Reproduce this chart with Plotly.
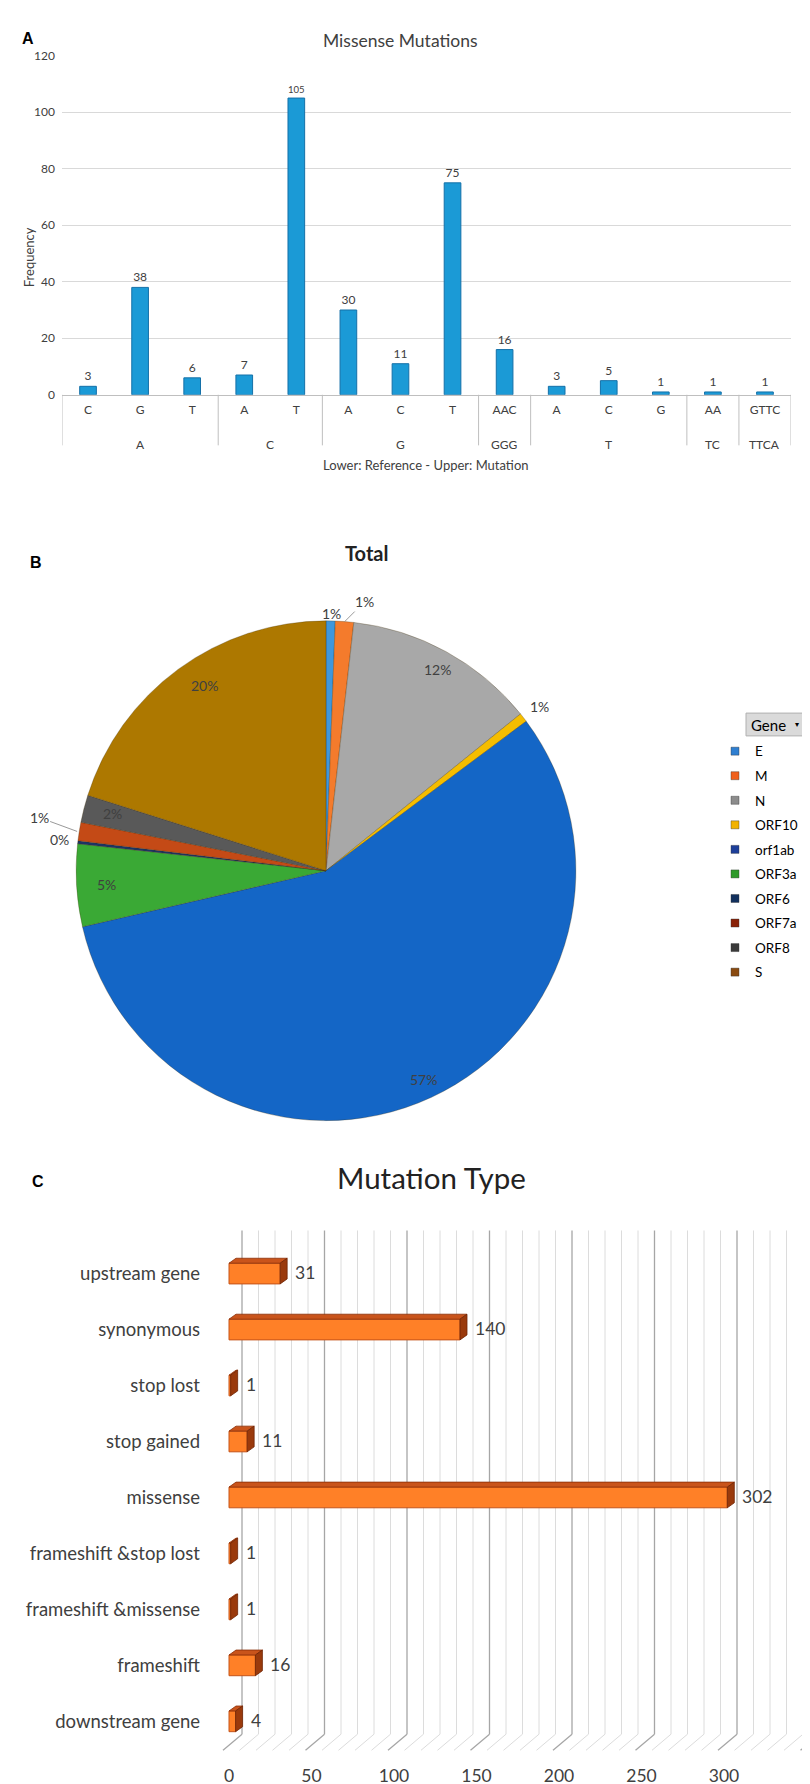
import math
import plotly.graph_objects as go

W, H = 810, 1784
FONT = "Lato, Carlito, Calibri, sans-serif"
TXT = "#404040"

# ---------------- Panel A data ----------------
mut_ref = ['A', 'A', 'A', 'C', 'C', 'G', 'G', 'G', 'GGG', 'T', 'T', 'T', 'TC', 'TTCA']
mut_alt = ['C', 'G', 'T', 'A', 'T', 'A', 'C', 'T', 'AAC', 'A', 'C', 'G', 'AA', 'GTTC']
mut_freq = [3, 38, 6, 7, 105, 30, 11, 75, 16, 3, 5, 1, 1, 1]
freq_ticks = [0, 20, 40, 60, 80, 100, 120]

# ---------------- Panel B data ----------------
genes = ['E', 'M', 'N', 'ORF10', 'orf1ab', 'ORF3a', 'ORF6', 'ORF7a', 'ORF8', 'S']
gene_counts = [3, 6, 63, 3, 287, 27, 1, 6, 9, 102]
gene_colors = ['#3f97dc', '#f47b2c', '#a8a8a8', '#f5bd00', '#1466c6',
               '#3aa935', '#1c3566', '#c44a16', '#595959', '#ad7800']
legend_colors = ['#2f7fd1', '#f0601c', '#8c8c8c', '#f2b200', '#1d3f9a',
                 '#2e9a2a', '#12305e', '#8a2208', '#3a3a3a', '#8a4a10']

# ---------------- Panel C data ----------------
mtypes = ['downstream gene', 'frameshift', 'frameshift &missense', 'frameshift &stop lost',
          'missense', 'stop gained', 'stop lost', 'synonymous', 'upstream gene']
mcounts = [4, 16, 1, 1, 302, 11, 1, 140, 31]
type_ticks = [0, 50, 100, 150, 200, 250, 300, 350]


def fx(px):
    return px / W


def fy(py):
    return 1 - py / H


fig = go.Figure()
annotations = []
shapes = []

# ---- Panel A bars (numeric positions, labelled by mutation / reference) ----
xpos = list(range(len(mut_alt)))
fig.add_trace(go.Bar(
    x=xpos, y=mut_freq, width=0.32,
    marker=dict(color='#1b9ad6', line=dict(color='#1470a8', width=1)),
    text=mut_freq, textposition='outside', cliponaxis=False,
    textfont=dict(size=12, color=TXT, family=FONT),
    xaxis='x', yaxis='y', showlegend=False, hoverinfo='skip'))

# group labels (reference) and dividers
groups = []
start = 0
for i in range(1, len(mut_ref) + 1):
    if i == len(mut_ref) or mut_ref[i] != mut_ref[start]:
        groups.append((mut_ref[start], start, i - 1))
        start = i
bounds = [-0.5] + [g[2] + 0.5 for g in groups]
for b in bounds:
    shapes.append(dict(type='line', xref='x', yref='paper', x0=b, x1=b,
                       y0=fy(382), y1=fy(433), line=dict(color='#bfbfbf', width=1)))
for name, s, e in groups:
    annotations.append(dict(x=(s + e) / 2, y=fy(423), xref='x', yref='paper', text=name,
                            showarrow=False, font=dict(size=12, color=TXT, family=FONT)))

# ---- Panel B pie ----
PCX, PCY, PR = 318, 862, 252
fig.add_trace(go.Pie(
    labels=genes, values=gene_counts, sort=False, direction='clockwise', rotation=0,
    marker=dict(colors=gene_colors, line=dict(color='rgba(60,40,0,0.35)', width=0.8)),
    textinfo='none', showlegend=False, hoverinfo='label+percent',
    domain=dict(x=[fx(PCX - PR), fx(PCX + PR)], y=[fy(PCY + PR), fy(PCY - PR)])))

# legend entries (one per gene)
for g, c in zip(genes, legend_colors):
    fig.add_trace(go.Scatter(
        x=[None], y=[None], mode='markers', name=g, legendgroup=g,
        marker=dict(symbol='square', size=8, color=c, line=dict(color='#333333', width=0.4)),
        xaxis='x3', yaxis='y3', showlegend=True, hoverinfo='skip'))

# ---- Panel C bars (3D look) ----
ypos = list(range(len(mtypes)))
BW = 0.37
PXU = 1.65            # pixels per unit on x3
ROWPX = 508 / 9.0     # pixels per category row
DXU = 7 / PXU
DYU = 5 / ROWPX

fig.add_trace(go.Bar(
    x=mcounts, y=ypos, orientation='h', width=BW,
    marker=dict(color='#ff8027', line=dict(color='#c5541a', width=1)),
    xaxis='x3', yaxis='y3', showlegend=False, hoverinfo='skip'))

top_x, top_y, side_x, side_y = [], [], [], []
for v, yv in zip(mcounts, ypos):
    yt = yv + BW / 2
    yb = yv - BW / 2
    top_x += [0, v, v + DXU, DXU, 0, None]
    top_y += [yt, yt, yt + DYU, yt + DYU, yt, None]
    side_x += [v, v + DXU, v + DXU, v, v, None]
    side_y += [yb, yb + DYU, yt + DYU, yt, yb, None]

fig.add_trace(go.Scatter(x=top_x, y=top_y, mode='lines', fill='toself',
                         fillcolor='#c9541b', line=dict(color='#8a2e08', width=0.8),
                         xaxis='x3', yaxis='y3', showlegend=False, hoverinfo='skip'))
fig.add_trace(go.Scatter(x=side_x, y=side_y, mode='lines', fill='toself',
                         fillcolor='#9a3a0c', line=dict(color='#6e2405', width=0.8),
                         xaxis='x3', yaxis='y3', showlegend=False, hoverinfo='skip'))

# value labels panel C
for v, yv in zip(mcounts, ypos):
    annotations.append(dict(x=v, y=yv, xref='x3', yref='y3', text=str(v), showarrow=False,
                            xanchor='left', yanchor='middle', xshift=DXU * PXU + 6, yshift=1,
                            font=dict(size=17.5, color=TXT, family=FONT)))

# gridlines with perspective floor (panel C)
BACK = 13 / PXU
FRONT = -6 / PXU
for v in range(0, 351, 10):
    major = v % 50 == 0
    col = '#a6a6a6' if major else '#dcdcdc'
    wd = 1.3 if major else 1
    shapes.append(dict(type='line', xref='x3', yref='y3 domain', x0=v + BACK, x1=v + BACK,
                       y0=1.03, y1=0.03, line=dict(color=col, width=wd), layer='below'))
    shapes.append(dict(type='line', xref='x3', yref='y3 domain', x0=v + BACK, x1=v + FRONT,
                       y0=0.03, y1=-0.002, line=dict(color=col, width=wd), layer='below'))

# pie labels
tot = sum(gene_counts)
cum = 0
inside = {'N', 'orf1ab', 'S', 'ORF3a', 'ORF8'}
for g, c in zip(genes, gene_counts):
    mid = (cum + c / 2) / tot * 2 * math.pi
    cum += c
    pct = f"{round(100 * c / tot):d}%"
    s, co = math.sin(mid), math.cos(mid)
    if g in inside:
        rr = 0.92 * PR
        annotations.append(dict(x=fx(PCX + rr * s), y=fy(PCY - rr * co), xref='paper', yref='paper',
                                text=pct, showarrow=False, font=dict(size=14, color=TXT, family=FONT)))
    elif g in ('M', 'ORF7a'):
        ax, ay = (20, -20) if g == 'M' else (-38, -14)
        annotations.append(dict(x=fx(PCX + PR * s), y=fy(PCY - PR * co), xref='paper', yref='paper',
                                text=pct, showarrow=True, arrowhead=0, arrowwidth=0.8,
                                arrowcolor='#7f7f7f', ax=ax, ay=ay, standoff=0,
                                font=dict(size=14, color=TXT, family=FONT)))
    else:
        rr = (1.11 if g == 'ORF6' else 1.07) * PR
        annotations.append(dict(x=fx(PCX + rr * s), y=fy(PCY - rr * co), xref='paper', yref='paper',
                                text=pct, showarrow=False, font=dict(size=14, color=TXT, family=FONT)))

# titles, panel letters, axis titles
annotations += [
    dict(x=fx(12), y=fy(12), text='<b>A</b>', font=dict(size=16, color='#000', family='Arial')),
    dict(x=fx(20), y=fy(541), text='<b>B</b>', font=dict(size=16, color='#000', family='Arial')),
    dict(x=fx(22), y=fy(1175), text='<b>C</b>', font=dict(size=16, color='#000', family='Arial')),
    dict(x=fx(392), y=fy(12), text='Missense Mutations', font=dict(size=17.5, color=TXT, family=FONT)),
    dict(x=fx(11), y=fy(211), text='Frequency', textangle=-90, font=dict(size=13, color=TXT, family=FONT)),
    dict(x=fx(418), y=fy(443), text='Lower: Reference - Upper: Mutation',
         font=dict(size=13, color=TXT, family=FONT)),
    dict(x=fx(358), y=fy(527), text='<b>Total</b>', font=dict(size=20, color='#222', family=FONT)),
    dict(x=fx(423), y=fy(1171), text='Mutation Type', font=dict(size=29.5, color='#222', family=FONT)),
    dict(x=fx(741), y=fy(715), text='Gene', xanchor='left', font=dict(size=15, color='#000', family=FONT)),
    dict(x=fx(793), y=fy(714), text='▾', font=dict(size=8, color='#000', family=FONT)),
]
for a in annotations:
    a.setdefault('xref', 'paper')
    a.setdefault('yref', 'paper')
    a.setdefault('showarrow', False)

# legend header box
shapes.append(dict(type='rect', xref='paper', yref='paper', x0=fx(738), x1=fx(804),
                   y0=fy(726), y1=fy(703), fillcolor='#dadada', line=dict(color='#b0b0b0', width=1),
                   layer='below'))

fig.update_layout(
    width=W, height=H, margin=dict(l=0, r=0, t=0, b=0),
    paper_bgcolor='white', plot_bgcolor='white',
    font=dict(family=FONT, color=TXT),
    xaxis=dict(domain=[fx(54), fx(783)], range=[-0.5, len(mut_alt) - 0.5], anchor='y',
               tickvals=xpos, ticktext=mut_alt, ticks='', ticklabelstandoff=4,
               showline=True, linecolor='#bfbfbf', linewidth=1, zeroline=False,
               tickfont=dict(size=12, color=TXT, family=FONT), showgrid=False),
    yaxis=dict(domain=[fy(382), fy(40)], range=[0, 120], tickvals=freq_ticks, anchor='x',
               showgrid=True, gridcolor='#d9d9d9', zeroline=False, showline=False,
               tickfont=dict(size=12, color=TXT, family=FONT), ticklabelstandoff=6),
    xaxis3=dict(domain=[fx(200), 1], range=[(200 - 221) / PXU, (810 - 221) / PXU], anchor='y3',
                tickvals=type_ticks, showgrid=False, zeroline=False, showline=False,
                tickfont=dict(size=17.5, color=TXT, family=FONT), ticklabelstandoff=14),
    yaxis3=dict(domain=[fy(1748), fy(1240)], range=[-0.5, 8.5], anchor='x3',
                tickvals=ypos, ticktext=mtypes, showgrid=False, zeroline=False, showline=False,
                tickfont=dict(size=18.5, color=TXT, family=FONT), ticklabelstandoff=7),
    legend=dict(x=fx(707), y=fy(726), xanchor='left', yanchor='top', tracegroupgap=4,
                font=dict(size=13.5, color='#000', family=FONT), itemwidth=30,
                bgcolor='rgba(0,0,0,0)'),
    annotations=annotations, shapes=shapes, bargap=0.5,
)

fig.write_html("out.html")
